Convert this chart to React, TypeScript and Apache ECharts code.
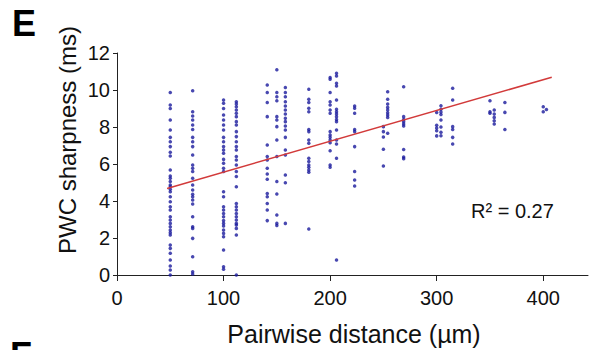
import React, { useEffect, useRef } from "react";
import * as echarts from "echarts";

// Pairwise distances (µm) of each column of points
const distances = [50, 71, 100, 112, 141, 150, 158, 180, 200, 206, 223, 250, 254, 269, 300, 304, 315, 350, 354, 364, 400, 403];

// PWC sharpness (ms) values of each column
const col050 = [9.86, 9.19, 9.0, 8.38, 7.84, 7.44, 7.2, 6.94, 6.63, 6.43, 5.68, 5.35, 5.23, 5.05, 4.86, 4.77, 4.63, 4.5, 4.23, 3.96, 3.69, 3.51, 3.15, 2.97, 2.79, 2.61, 2.43, 2.29, 2.16, 1.62, 1.44, 1.17, 0.81, 0.49, 0.27, 0];
const col071 = [9.96, 8.83, 8.59, 8.38, 8.11, 7.87, 7.44, 7.2, 6.94, 6.49, 5.95, 5.77, 5.59, 5.23, 4.86, 4.59, 4.36, 4.23, 4.05, 3.84, 3.15, 2.61, 2.52, 1.98, 0.99, 0.18, 0.05];
const col100 = [9.46, 9.28, 9.0, 8.65, 8.38, 8.11, 7.84, 7.44, 7.2, 6.94, 6.76, 6.58, 6.25, 6.04, 5.77, 5.59, 4.5, 4.23, 3.69, 3.51, 3.33, 3.15, 2.94, 2.79, 2.65, 2.43, 2.25, 2.07, 1.35, 0.45, 0.31];
const col112 = [9.37, 9.24, 9.1, 8.92, 8.74, 8.56, 8.29, 8.11, 7.75, 7.48, 7.2, 6.94, 6.76, 6.4, 6.22, 5.95, 5.59, 5.32, 4.77, 3.87, 3.69, 3.51, 3.33, 3.15, 2.97, 2.79, 2.7, 2.52, 2.16, 0];
const col141 = [10.27, 9.86, 9.32, 8.56, 7.03, 6.4, 6.22, 5.77, 5.46, 5.17, 4.41, 4.23, 3.87, 3.51, 2.94];
const col150 = [11.1, 9.86, 9.64, 9.42, 8.56, 8.38, 8.02, 7.3, 6.4, 5.05, 4.38, 3.24, 2.79, 2.67];
const col158 = [10.14, 9.86, 9.64, 9.37, 9.14, 8.92, 8.7, 8.47, 8.29, 8.05, 7.84, 7.44, 6.76, 6.49, 5.41, 4.99, 2.79];
const col180 = [10.04, 9.5, 9.32, 9.01, 8.83, 7.87, 7.75, 7.3, 7.12, 6.31, 6.13, 5.95, 5.82, 5.68, 5.55, 2.49];
const col200 = [10.68, 10.58, 9.86, 9.37, 9.19, 8.92, 8.74, 7.75, 7.57, 7.44, 7.3, 7.15, 6.72, 5.95, 5.82];
const col206 = [10.9, 10.76, 10.36, 10.22, 9.46, 8.96, 8.83, 8.7, 8.56, 8.41, 8.29, 7.84, 7.3, 7.08, 6.31, 0.81];
const col223 = [9.14, 9.01, 8.74, 7.87, 7.75, 6.94, 5.59, 5.14, 4.81];
const col250 = [8.02, 7.75, 7.46, 6.8, 5.89];
const col254 = [9.91, 9.5, 9.24, 9.06, 8.92, 8.77, 8.65, 8.52, 7.66];
const col269 = [10.18, 8.56, 8.41, 8.29, 8.16, 8.05, 6.78, 6.38, 6.29];
const col300 = [8.78, 8.1, 7.95, 7.8, 7.52];
const col304 = [9.15, 8.96, 8.81, 8.68, 8.38, 8.0, 7.72, 7.53];
const col315 = [10.09, 9.46, 8.02, 7.87, 7.44, 7.08];
const col350 = [9.42, 8.83, 8.74];
const col354 = [8.92, 8.7, 8.52, 8.34, 8.16];
const col364 = [9.32, 8.79, 7.87];
const col400 = [9.1, 8.83];
const col403 = [8.95];

const columns = [col050, col071, col100, col112, col141, col150, col158, col180, col200, col206, col223, col250, col254, col269, col300, col304, col315, col350, col354, col364, col400, col403];

// Linear fit line end points
const fitX = [47, 408];
const fitY = [4.68, 10.69];

const xTicks = [0, 100, 200, 300, 400];
const yTicks = [0, 2, 4, 6, 8, 10, 12];

const FONT = "'Liberation Sans', Arial, sans-serif";

export default function App() {
  const ref = useRef<HTMLDivElement>(null);
  useEffect(() => {
    if (!ref.current) return;
    const chart = echarts.init(ref.current, undefined, { renderer: "svg" });
    const points: number[][] = [];
    columns.forEach((col, i) => col.forEach((v) => points.push([distances[i], v])));
    chart.setOption({
      animation: false,
      backgroundColor: "#ffffff",
      grid: { left: 117, top: 53, right: 1, bottom: 75, containLabel: false },
      xAxis: {
        type: "value",
        min: 0,
        max: 442,
        interval: 100,
        splitLine: { show: false },
        axisLine: { show: true, onZero: false, lineStyle: { color: "#222", width: 1 } },
        axisTick: { show: true, length: 6, customValues: xTicks, lineStyle: { color: "#222" } },
        axisLabel: {
          customValues: xTicks,
          margin: 13,
          fontSize: 20,
          color: "#111",
          fontFamily: FONT,
        },
      },
      yAxis: {
        type: "value",
        min: 0,
        max: 12,
        interval: 2,
        splitLine: { show: false },
        axisLine: { show: true, onZero: false, lineStyle: { color: "#222", width: 1 } },
        axisTick: { show: true, length: 4, customValues: yTicks, lineStyle: { color: "#222" } },
        axisLabel: {
          customValues: yTicks,
          margin: 7,
          fontSize: 20,
          color: "#111",
          fontFamily: FONT,
        },
      },
      series: [
        {
          type: "scatter",
          data: points,
          symbol: "circle",
          symbolSize: 3.5,
          itemStyle: { color: "#1a1a9c" },
          z: 2,
        },
        {
          type: "line",
          data: [
            [fitX[0], fitY[0]],
            [fitX[1], fitY[1]],
          ],
          symbol: "none",
          lineStyle: { color: "#d23a3a", width: 1.5 },
          z: 3,
        },
      ],
      graphic: [
        {
          type: "text",
          left: 12,
          top: 5,
          style: { text: "E", fontSize: 36, fontWeight: "bold", fill: "#000", fontFamily: FONT },
        },
        {
          type: "text",
          left: 10,
          top: 337,
          style: { text: "F", fontSize: 36, fontWeight: "bold", fill: "#000", fontFamily: FONT },
        },
        {
          type: "text",
          x: 67,
          y: 140,
          rotation: Math.PI / 2,
          style: {
            text: "PWC sharpness (ms)",
            fontSize: 24,
            fill: "#111",
            fontFamily: FONT,
            align: "center",
            verticalAlign: "middle",
          },
        },
        {
          type: "text",
          x: 354,
          y: 334,
          style: {
            text: "Pairwise distance (µm)",
            fontSize: 25,
            fill: "#111",
            fontFamily: FONT,
            align: "center",
            verticalAlign: "middle",
          },
        },
        {
          type: "text",
          x: 471,
          y: 211,
          style: {
            text: "R² = 0.27",
            fontSize: 20,
            fill: "#111",
            fontFamily: FONT,
            align: "left",
            verticalAlign: "middle",
          },
        },
      ],
    });
    return () => chart.dispose();
  }, []);
  return (
    <div
      ref={ref}
      style={{ position: "absolute", left: 0, top: 0, width: 589, height: 350, background: "#fff" }}
    />
  );
}
